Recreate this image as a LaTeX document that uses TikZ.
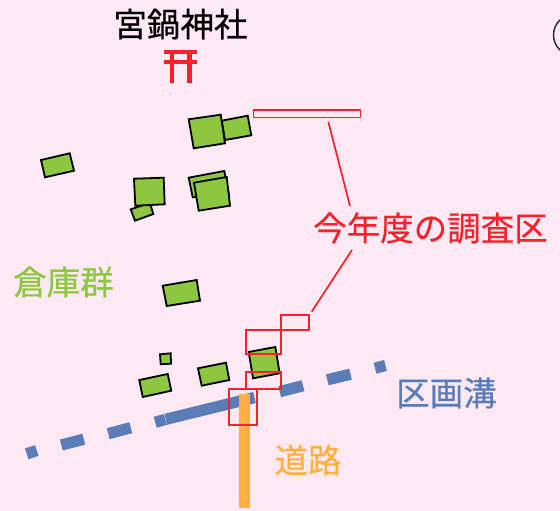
\documentclass[tikz,border=0pt]{standalone}
\usepackage{fontspec}
\setmainfont{Noto Sans CJK JP}
\newfontfamily\lblfont[FakeBold=0.45]{Noto Sans CJK JP}
\definecolor{bgpink}{HTML}{FDE9F3}
\definecolor{leaf}{HTML}{8DC63F}
\definecolor{mark}{HTML}{F5222D}
\definecolor{ditch}{HTML}{5A7DB8}
\definecolor{road}{HTML}{FFB03F}
\tikzset{
  house/.style={draw=black,line width=1.8pt,fill=leaf,line join=miter},
  survey/.style={draw=mark,line width=1.8pt},
  ditchline/.style={draw=ditch,line width=11.3pt},
  lbl/.style={font=\lblfont\fontsize{33.5}{36}\selectfont,inner sep=0pt},
  leader/.style={draw=mark,line width=1.7pt},
  toriibar/.style={draw=mark,line width=4pt}
}
\begin{document}
\begin{tikzpicture}[x=1pt,y=-1pt]
\useasboundingbox (0,0) rectangle (560,511);
\clip (0,0) rectangle (560,511);
\fill[bgpink] (0,0) rectangle (560,511);
% clipped circle at top right
\draw[line width=1.4pt,color=black!85] (574,35) circle (20.5);
% buildings
\draw[house] (221.7,120.7) -- (247.7,115.7) -- (251.3,135.3) -- (225,140) -- cycle;
\draw[house] (188.7,119.3) -- (220.7,114.7) -- (225,143.3) -- (193.7,148.3) -- cycle;
\draw[house] (41,160) -- (69.7,153.3) -- (74,170.7) -- (45,177.3) -- cycle;
\draw[house] (130.7,209.3) -- (150,203) -- (153.3,214) -- (135,220.7) -- cycle;
\draw[house] (134,178.7) -- (163.7,177.7) -- (164.7,204.3) -- (135.3,205.7) -- cycle;
\draw[house] (188.7,177.7) -- (224.3,171) -- (229,195) -- (192.7,197.3) -- cycle;
\draw[house] (194,182.7) -- (226.7,177) -- (230,205.7) -- (198.7,210.7) -- cycle;
\draw[house] (162.7,285.7) -- (196.7,280) -- (200,300.7) -- (166.7,306) -- cycle;
\draw[house] (248.7,352) -- (275.3,347) -- (279.7,373.3) -- (253,378.3) -- cycle;
\draw[house] (198,368.3) -- (226,362.7) -- (229.3,380) -- (201.7,385.7) -- cycle;
\draw[house] (160,354.3) -- (170.7,353.3) -- (171,363.7) -- (160.7,364.3) -- cycle;
\draw[house] (139.3,380) -- (167.7,374) -- (171.3,390.7) -- (142.7,397) -- cycle;
% ditch
\draw[ditchline] (26.7,453.8) -- (36.8,450.5);
\draw[ditchline] (61.3,445) -- (83.8,439.2);
\draw[ditchline] (108.2,433.7) -- (130.8,427.7);
\draw[ditchline] (155.2,422.3) -- (165.3,419.4);
\draw[ditchline] (165.8,419.3) -- (254.5,397.5);
\draw[ditchline] (279.7,391.7) -- (303,385.7);
\draw[ditchline] (327.3,379.8) -- (350.5,374.2);
\draw[ditchline] (375,368.2) -- (385.5,365.5);
% road
\fill[road] (238.7,394) rectangle (249.7,507.5);
% survey areas
\draw[survey] (253.5,110) rectangle (360.5,117.5);
\draw[survey] (280.7,315) rectangle (309.3,330);
\draw[survey] (246.3,330) rectangle (280.7,353.7);
\draw[survey] (246.3,371.7) rectangle (280.7,389.3);
\draw[survey] (228.7,388.7) rectangle (257,424.7);
% torii
\draw[toriibar] (163.7,52) -- (197.3,52);
\draw[toriibar] (163.7,61.7) -- (197.3,61.7);
\draw[toriibar,line width=4.3pt] (172.2,52) -- (172.2,82.7);
\draw[toriibar,line width=4.3pt] (189.5,52) -- (189.5,82.7);
% labels
\node[lbl,text=black] (shrine) at (180.5,24) {宮鍋神社};
\node[lbl,text=mark] (survey) at (430.5,228) {今年度の調査区};
\node[lbl,text=leaf] (store) at (63.5,282) {倉庫群};
\node[lbl,text=ditch] (ditchlabel) at (446.5,393) {区画溝};
\node[lbl,text=road] (roadlabel) at (308,460) {道路};
% leaders
\coordinate (a1) at (328.3,121.7);
\coordinate (a2) at (350,206);
\coordinate (b1) at (352,250);
\coordinate (b2) at (311.7,311.7);
\draw[leader] (a1) -- (a2);
\draw[leader] (b1) -- (b2);
\end{tikzpicture}
\end{document}
